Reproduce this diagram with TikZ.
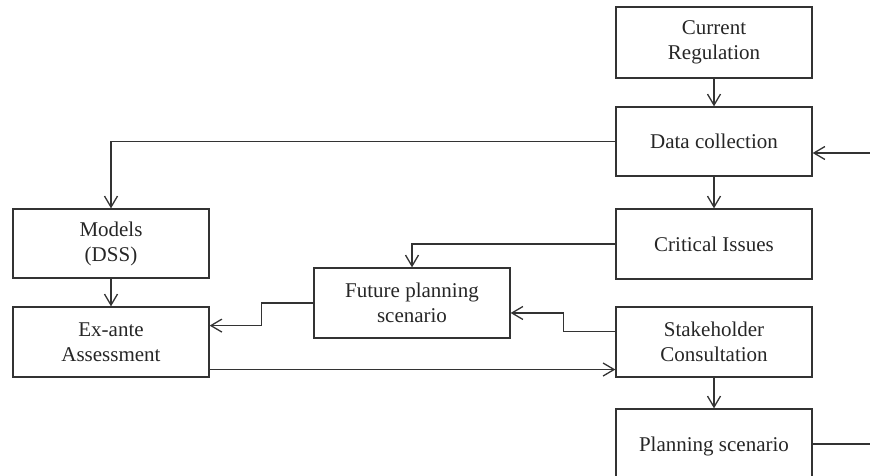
\documentclass[tikz,border=0pt]{standalone}
\usepackage{fontspec}
\setmainfont{Liberation Serif}
\usetikzlibrary{arrows.meta,calc}
\begin{document}
\begin{tikzpicture}[x=1pt,y=-1pt,
  box/.style={draw=black!80,line width=1.3pt,rectangle,minimum width=196pt,inner sep=0pt,
    align=center,font=\fontsize{21}{25}\selectfont,text=black!85},
  arr/.style={draw=black!80,line width=1.3pt,-{Straight Barb[length=11pt,width=13pt,line width=1.3pt]}},
  ln/.style={draw=black!80,line width=1.3pt}]
\useasboundingbox (0,0) rectangle (870,476);
\clip (0,0) rectangle (870,476);
\node[box,minimum height=71pt] (cr) at (714,42.5) {Current\\Regulation};
\node[box,minimum height=69pt] (dc) at (714,141.5) {Data collection};
\node[box,minimum height=70pt] (ci) at (714,244) {Critical Issues};
\node[box,minimum height=70pt] (sc) at (714,342) {Stakeholder\\Consultation};
\node[box,minimum height=70pt,text depth=0pt] (ps) at (714,444) {Planning scenario};
\node[box,minimum height=69pt] (md) at (111,243.5) {Models\\(DSS)};
\node[box,minimum height=70pt] (ea) at (111,342) {Ex-ante\\Assessment};
\node[box,minimum height=70pt] (fp) at (412,303) {Future planning\\scenario};
\coordinate (in) at (870,153);
\coordinate (out) at (870,444);
\draw[arr] (cr.south) -- (dc.north);
\draw[arr] (in) -- (in -| dc.east);
\draw[arr] (dc.west) -| (md.north);
\draw[arr] (dc.south) -- (ci.north);
\draw[arr] (ci.west) -| (fp.north);
\draw[arr] (md.south) -- (ea.north);
\draw[arr] (fp.west) -- ++(-52,0) |- ($(ea.north east)!0.27!(ea.south east)$);
\draw[arr] ($(sc.north west)!0.35!(sc.south west)$) -- ++(-52,0) |- ($(fp.north east)!0.64!(fp.south east)$);
\coordinate (eab) at ($(ea.north east)!0.886!(ea.south east)$);
\draw[arr] (eab) -- (eab -| sc.west);
\draw[arr] (sc.south) -- (ps.north);
\draw[ln] (ps.east) -- (out);
\end{tikzpicture}
\end{document}
